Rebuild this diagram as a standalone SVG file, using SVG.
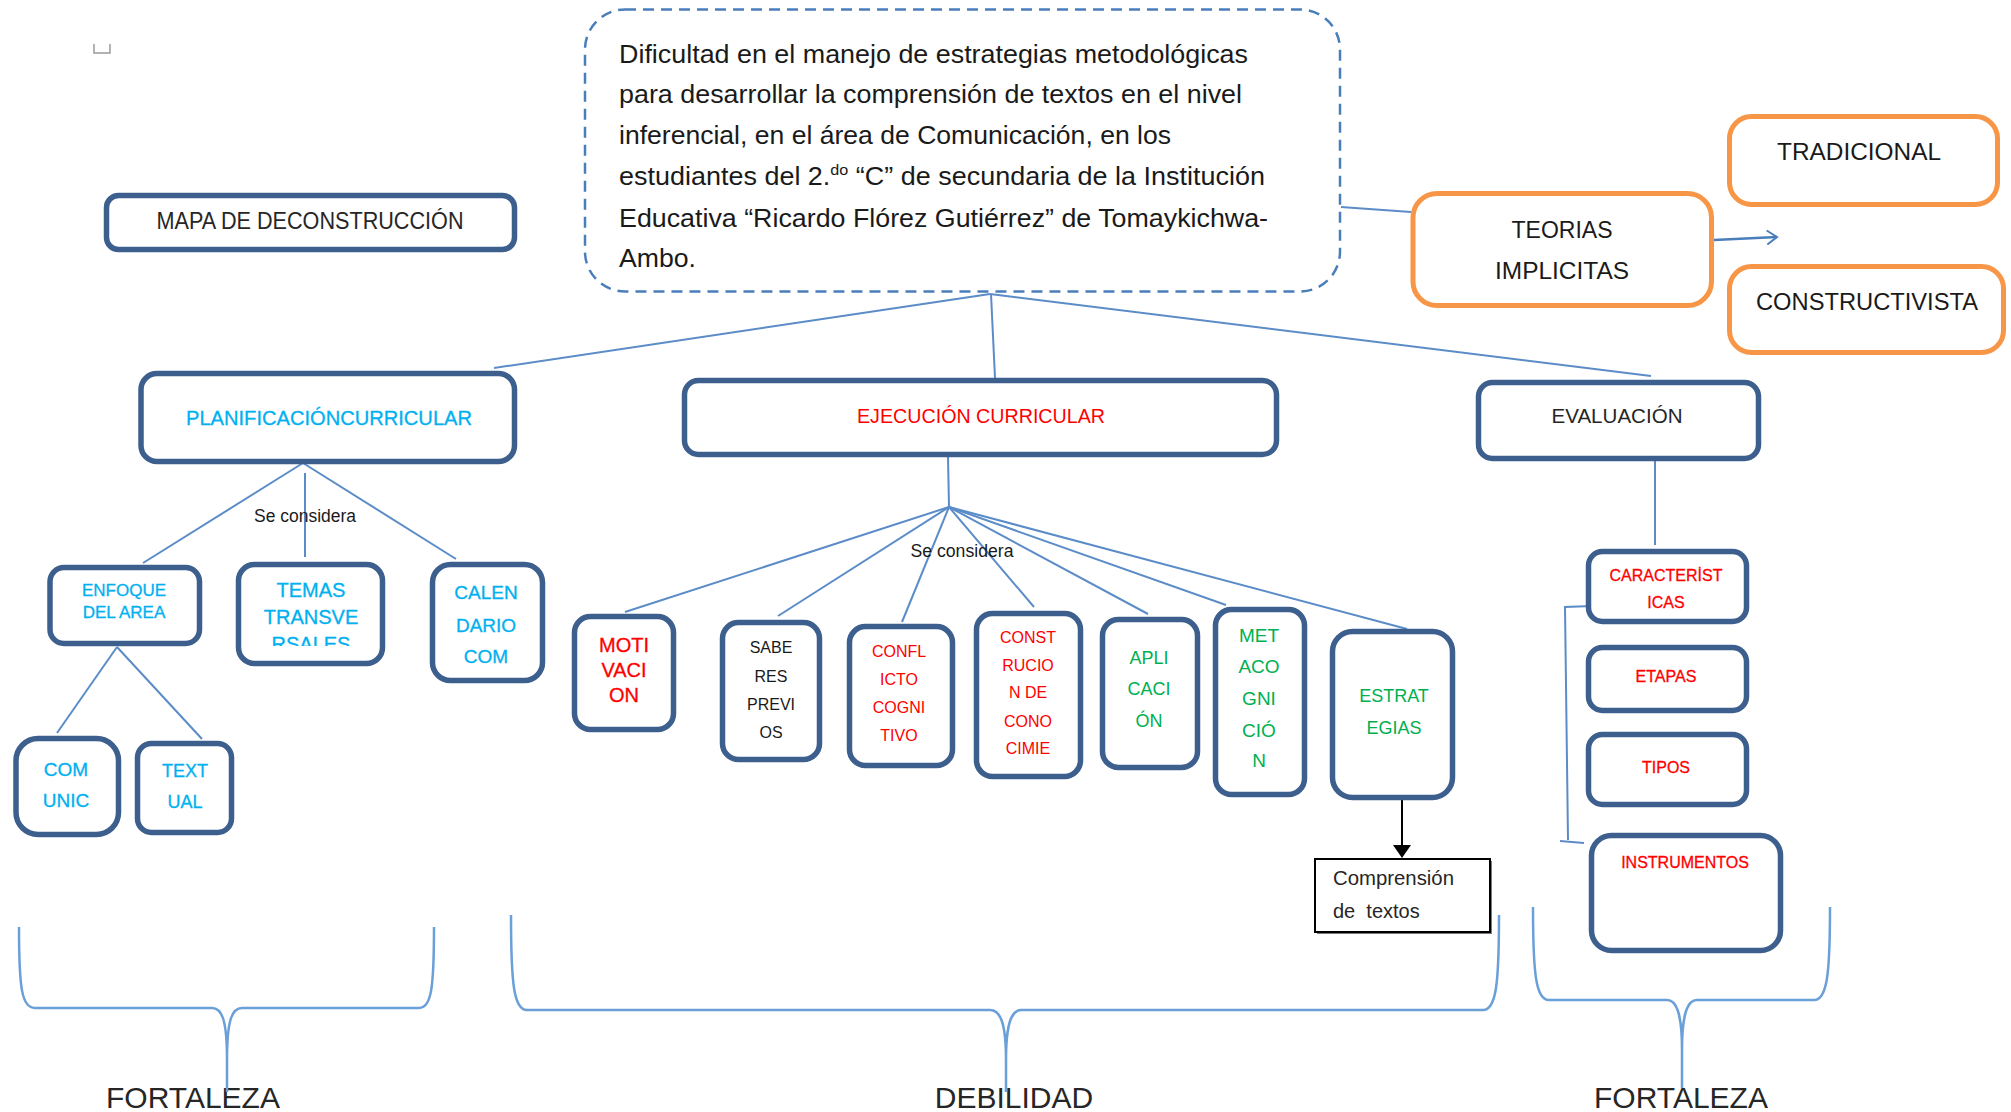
<svg xmlns="http://www.w3.org/2000/svg" width="2011" height="1112" viewBox="0 0 2011 1112">
  <style>
    text { font-family: 'Liberation Sans', Arial, sans-serif; fill: #1a1a1a; }
    .c { text-anchor: middle; }
    .box { fill: #fff; stroke: #3D5F8E; stroke-width: 5.5; }
    .obox { fill: #fff; stroke: #F79646; stroke-width: 5; }
    .conn { stroke: #5B8CC8; stroke-width: 2; fill: none; }
    .brace { stroke: #6A9FD8; stroke-width: 2.5; fill: none; }
    .cyan { fill: #00B0F0; }
    .red { fill: #FF0000; }
    .green { fill: #00B050; }
    .dark { fill: #262626; }
    .heavy { stroke-width: 0.3; paint-order: stroke; }
    .cyan.heavy { stroke: #00B0F0; }
    .red.heavy { stroke: #FF0000; }
    .green.heavy { stroke: #00B050; }
  </style>
  <defs>
    <marker id="openArrow" markerWidth="14" markerHeight="16" refX="12" refY="8" orient="auto" markerUnits="userSpaceOnUse">
      <path d="M2,1 L12,8 L2,15" fill="none" stroke="#4A7EBB" stroke-width="2"/>
    </marker>
    <clipPath id="temasClip">
      <rect x="238" y="565" width="145" height="81"/>
    </clipPath>
  </defs>

  <rect width="2011" height="1112" fill="#fff"/>

  <!-- small page mark -->
  <path d="M94,44 V53 H110 V44" fill="none" stroke="#9a9a9a" stroke-width="1.5"/>

  <!-- connectors -->
  <g id="connectors">
    <line class="conn" x1="990" y1="294" x2="494" y2="368"/>
    <line class="conn" x1="991" y1="294" x2="995" y2="378"/>
    <line class="conn" x1="990" y1="294" x2="1651" y2="376"/>
    <line class="conn" x1="1341" y1="207" x2="1411" y2="212"/>
    <line x1="1714" y1="240" x2="1777" y2="237" stroke="#4A7EBB" stroke-width="2.5" marker-end="url(#openArrow)"/>
    <line class="conn" x1="303" y1="463" x2="143" y2="563"/>
    <line class="conn" x1="305" y1="473" x2="305" y2="557"/>
    <line class="conn" x1="303" y1="463" x2="456" y2="559"/>
    <line class="conn" x1="117" y1="647" x2="57" y2="733"/>
    <line class="conn" x1="117" y1="647" x2="202" y2="739"/>
    <line class="conn" x1="948" y1="457" x2="949" y2="507"/>
    <line class="conn" x1="949" y1="507" x2="625" y2="612"/>
    <line class="conn" x1="949" y1="507" x2="778" y2="616"/>
    <line class="conn" x1="949" y1="507" x2="902" y2="622"/>
    <line class="conn" x1="949" y1="507" x2="1034" y2="607"/>
    <line class="conn" x1="949" y1="507" x2="1148" y2="614"/>
    <line class="conn" x1="949" y1="507" x2="1226" y2="605"/>
    <line class="conn" x1="949" y1="507" x2="1407" y2="629"/>
    <line class="conn" x1="1655" y1="461" x2="1655" y2="545"/>
    <polyline class="conn" points="1592,606 1565,607 1568,840"/>
    <line class="conn" x1="1560" y1="841" x2="1584" y2="843"/>
    <line x1="1402" y1="800" x2="1402" y2="846" stroke="#000" stroke-width="2"/>
    <polygon points="1393,845 1411,845 1402,858" fill="#000"/>
  </g>

  <!-- labels on connectors -->
  <text x="305" y="522" font-size="17.5" class="c" textLength="102" lengthAdjust="spacingAndGlyphs">Se considera</text>
  <text x="962" y="557" font-size="17.5" class="c" textLength="103" lengthAdjust="spacingAndGlyphs">Se considera</text>

  <!-- title -->
  <g id="mapa">
    <rect class="box" x="106.5" y="195.5" width="408" height="54" rx="12"/>
    <text x="310" y="229" font-size="24" class="c dark" textLength="307" lengthAdjust="spacingAndGlyphs">MAPA DE DECONSTRUCCIÓN</text>
  </g>

  <!-- central problem -->
  <g id="problema">
    <rect x="585" y="9.5" width="755" height="282" rx="40" fill="#fff" stroke="#4A7EBB" stroke-width="2.5" stroke-dasharray="11 7"/>
    <text x="619" y="63" font-size="25" textLength="629" lengthAdjust="spacingAndGlyphs">Dificultad en el manejo de estrategias metodológicas</text>
    <text x="619" y="103" font-size="25" textLength="623" lengthAdjust="spacingAndGlyphs">para desarrollar la comprensión de textos en el nivel</text>
    <text x="619" y="144" font-size="25" textLength="552" lengthAdjust="spacingAndGlyphs">inferencial, en el área de Comunicación, en los</text>
    <text x="619" y="185" font-size="25" textLength="646" lengthAdjust="spacingAndGlyphs">estudiantes del 2.<tspan font-size="15" dy="-10">do</tspan><tspan dy="10"> “C” de secundaria de la Institución</tspan></text>
    <text x="619" y="227" font-size="25" textLength="649" lengthAdjust="spacingAndGlyphs">Educativa “Ricardo Flórez Gutiérrez” de Tomaykichwa-</text>
    <text x="619" y="267" font-size="25" textLength="77" lengthAdjust="spacingAndGlyphs">Ambo.</text>
  </g>

  <!-- implicit theories -->
  <g id="teorias">
    <rect class="obox" x="1413" y="193.5" width="298.5" height="112" rx="24"/>
    <text x="1562" y="238" font-size="24" class="c" textLength="101" lengthAdjust="spacingAndGlyphs">TEORIAS</text>
    <text x="1562" y="279" font-size="24" class="c" textLength="134" lengthAdjust="spacingAndGlyphs">IMPLICITAS</text>
  </g>
  <g id="tradicional">
    <rect class="obox" x="1729.5" y="116.5" width="268" height="88" rx="22"/>
    <text x="1859" y="160" font-size="24" class="c" textLength="164" lengthAdjust="spacingAndGlyphs">TRADICIONAL</text>
  </g>
  <g id="constructivista">
    <rect class="obox" x="1729.5" y="266.5" width="274" height="86" rx="22"/>
    <text x="1867" y="310" font-size="24" class="c" textLength="222" lengthAdjust="spacingAndGlyphs">CONSTRUCTIVISTA</text>
  </g>

  <!-- planning branch -->
  <g id="planificacion">
    <rect class="box" x="141" y="373.5" width="373.5" height="88" rx="16"/>
    <text x="329" y="425" font-size="20" class="c cyan heavy" textLength="286" lengthAdjust="spacingAndGlyphs">PLANIFICACIÓNCURRICULAR</text>
  </g>
  <g id="enfoque">
    <rect class="box" x="50" y="567.5" width="149.5" height="76" rx="14"/>
    <text x="124" y="596" font-size="17" class="c cyan heavy">ENFOQUE</text>
    <text x="124" y="618" font-size="17" class="c cyan heavy">DEL AREA</text>
  </g>
  <g id="temas">
    <rect class="box" x="238.5" y="564.5" width="144" height="99" rx="16"/>
    <g clip-path="url(#temasClip)">
      <text x="311" y="597" font-size="20" class="c cyan heavy">TEMAS</text>
      <text x="311" y="624" font-size="20" class="c cyan heavy">TRANSVE</text>
      <text x="311" y="651" font-size="20" class="c cyan heavy">RSALES</text>
    </g>
  </g>
  <g id="calendario">
    <rect class="box" x="432.5" y="564.5" width="110" height="116" rx="18"/>
    <text x="486" y="599" font-size="19" class="c cyan heavy">CALEN</text>
    <text x="486" y="632" font-size="19" class="c cyan heavy">DARIO</text>
    <text x="486" y="663" font-size="19" class="c cyan heavy">COM</text>
  </g>
  <g id="comunic">
    <rect class="box" x="16" y="738.5" width="102.5" height="96" rx="22"/>
    <text x="66" y="776" font-size="19" class="c cyan heavy">COM</text>
    <text x="66" y="807" font-size="19" class="c cyan heavy">UNIC</text>
  </g>
  <g id="textual">
    <rect class="box" x="137.5" y="743.5" width="94" height="89" rx="14"/>
    <text x="185" y="777" font-size="18" class="c cyan heavy">TEXT</text>
    <text x="185" y="808" font-size="18" class="c cyan heavy">UAL</text>
  </g>

  <!-- execution branch -->
  <g id="ejecucion">
    <rect class="box" x="684.5" y="380.5" width="592" height="74" rx="14"/>
    <text x="981" y="423" font-size="21" class="c red" textLength="248" lengthAdjust="spacingAndGlyphs">EJECUCIÓN CURRICULAR</text>
  </g>
  <g id="motivacion">
    <rect class="box" x="574.5" y="616.5" width="99" height="113" rx="16"/>
    <text x="624" y="652" font-size="20" class="c red heavy">MOTI</text>
    <text x="624" y="677" font-size="20" class="c red heavy">VACI</text>
    <text x="624" y="702" font-size="20" class="c red heavy">ON</text>
  </g>
  <g id="saberes">
    <rect class="box" x="722.5" y="622.5" width="97" height="137" rx="16"/>
    <text x="771" y="653" font-size="16" class="c">SABE</text>
    <text x="771" y="682" font-size="16" class="c">RES</text>
    <text x="771" y="710" font-size="16" class="c">PREVI</text>
    <text x="771" y="738" font-size="16" class="c">OS</text>
  </g>
  <g id="conflicto">
    <rect class="box" x="849.5" y="626.5" width="103" height="139" rx="16"/>
    <text x="899" y="657" font-size="16" class="c red">CONFL</text>
    <text x="899" y="685" font-size="16" class="c red">ICTO</text>
    <text x="899" y="713" font-size="16" class="c red">COGNI</text>
    <text x="899" y="741" font-size="16" class="c red">TIVO</text>
  </g>
  <g id="construccion">
    <rect class="box" x="976.5" y="613.5" width="104" height="163" rx="16"/>
    <text x="1028" y="643" font-size="16" class="c red">CONST</text>
    <text x="1028" y="671" font-size="16" class="c red">RUCIO</text>
    <text x="1028" y="698" font-size="16" class="c red">N DE</text>
    <text x="1028" y="727" font-size="16" class="c red">CONO</text>
    <text x="1028" y="754" font-size="16" class="c red">CIMIE</text>
  </g>
  <g id="aplicacion">
    <rect class="box" x="1102.5" y="619.5" width="95" height="148" rx="16"/>
    <text x="1149" y="664" font-size="18" class="c green">APLI</text>
    <text x="1149" y="695" font-size="18" class="c green">CACI</text>
    <text x="1149" y="727" font-size="18" class="c green">ÓN</text>
  </g>
  <g id="metacognicion">
    <rect class="box" x="1215.5" y="609.5" width="89" height="185" rx="16"/>
    <text x="1259" y="642" font-size="19" class="c green">MET</text>
    <text x="1259" y="673" font-size="19" class="c green">ACO</text>
    <text x="1259" y="705" font-size="19" class="c green">GNI</text>
    <text x="1259" y="737" font-size="19" class="c green">CIÓ</text>
    <text x="1259" y="767" font-size="19" class="c green">N</text>
  </g>
  <g id="estrategias">
    <rect class="box" x="1332.5" y="631.5" width="120" height="166" rx="20"/>
    <text x="1394" y="702" font-size="18" class="c green">ESTRAT</text>
    <text x="1394" y="734" font-size="18" class="c green">EGIAS</text>
  </g>
  <g id="comprension">
    <rect x="1317" y="861" width="175" height="73" fill="#7a7a7a"/>
    <rect x="1315" y="859" width="175" height="73" fill="#fff" stroke="#000" stroke-width="2"/>
    <text x="1333" y="885" font-size="20" class="dark" textLength="121" lengthAdjust="spacingAndGlyphs">Comprensión</text>
    <text x="1333" y="918" font-size="20" class="dark" style="white-space:pre">de  textos</text>
  </g>

  <!-- evaluation branch -->
  <g id="evaluacion">
    <rect class="box" x="1478.5" y="382.5" width="280" height="76" rx="14"/>
    <text x="1617" y="423" font-size="21" class="c dark" textLength="131" lengthAdjust="spacingAndGlyphs">EVALUACIÓN</text>
  </g>
  <g id="caracteristicas">
    <rect class="box" x="1588.5" y="551.5" width="158" height="70" rx="14"/>
    <text x="1666" y="581" font-size="16" class="c red heavy">CARACTERİST</text>
    <text x="1666" y="608" font-size="16" class="c red heavy">ICAS</text>
  </g>
  <g id="etapas">
    <rect class="box" x="1588.5" y="647.5" width="158" height="63" rx="14"/>
    <text x="1666" y="682" font-size="16" class="c red heavy">ETAPAS</text>
  </g>
  <g id="tipos">
    <rect class="box" x="1588.5" y="734.5" width="158" height="70" rx="14"/>
    <text x="1666" y="773" font-size="16" class="c red heavy">TIPOS</text>
  </g>
  <g id="instrumentos">
    <rect class="box" x="1591.5" y="835.5" width="189" height="115" rx="20"/>
    <text x="1685" y="868" font-size="16" class="c red heavy">INSTRUMENTOS</text>
  </g>

  <!-- summary braces -->
  <text x="193" y="1108" font-size="30" class="c dark">FORTALEZA</text>
  <text x="1014" y="1108" font-size="30" class="c dark">DEBILIDAD</text>
  <text x="1681" y="1108" font-size="30" class="c dark">FORTALEZA</text>
  <g id="braces">
    <path class="brace" d="M19,927 C19,990 22,1008 35,1008 L212,1008 C222,1008 227,1020 227,1060 L227,1092 M434,927 C434,990 431,1008 419,1008 L242,1008 C232,1008 227,1020 227,1060"/>
    <path class="brace" d="M511,915 C511,985 514,1010 527,1010 L990,1010 C1000,1010 1006,1022 1006,1060 L1006,1092 M1499,915 C1499,985 1496,1010 1483,1010 L1021,1010 C1012,1010 1006,1022 1006,1060"/>
    <path class="brace" d="M1533,907 C1533,975 1536,1000 1549,1000 L1667,1000 C1676,1000 1682,1012 1682,1050 L1682,1088 M1830,907 C1830,975 1827,1000 1814,1000 L1697,1000 C1688,1000 1682,1012 1682,1050"/>
  </g>
</svg>
